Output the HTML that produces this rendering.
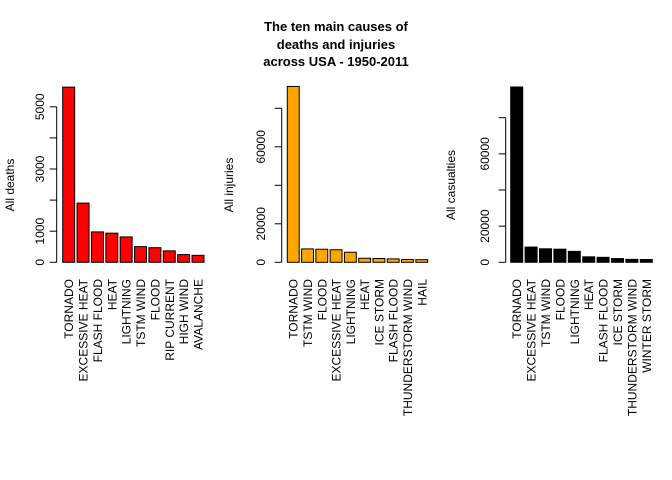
<!DOCTYPE html>
<html><head><meta charset="utf-8"><style>
body{margin:0;background:#fff}
svg{display:block;font-family:"Liberation Sans",sans-serif}
</style></head><body>
<svg id="c" width="672" height="480">
<text x="336" y="31" text-anchor="middle" font-size="13" font-weight="bold">The ten main causes of</text>
<text x="336" y="49" text-anchor="middle" font-size="13" font-weight="bold">deaths and injuries</text>
<text x="336" y="66" text-anchor="middle" font-size="13" font-weight="bold">across USA - 1950-2011</text>
</svg>
<script>
const deathCats=["TORNADO","EXCESSIVE HEAT","FLASH FLOOD","HEAT","LIGHTNING","TSTM WIND","FLOOD","RIP CURRENT","HIGH WIND","AVALANCHE"];
const deathVals=[5633,1903,978,937,816,504,470,368,248,224];
const deathTicks=[0,1000,2000,3000,4000,5000];
const deathTickLabels=["0","1000","","3000","","5000"];
const injCats=["TORNADO","TSTM WIND","FLOOD","EXCESSIVE HEAT","LIGHTNING","HEAT","ICE STORM","FLASH FLOOD","THUNDERSTORM WIND","HAIL"];
const injVals=[91346,6957,6789,6525,5230,2100,1975,1777,1488,1361];
const injTicks=[0,20000,40000,60000,80000];
const injTickLabels=["0","20000","","60000",""];
const casCats=["TORNADO","EXCESSIVE HEAT","TSTM WIND","FLOOD","LIGHTNING","HEAT","FLASH FLOOD","ICE STORM","THUNDERSTORM WIND","WINTER STORM"];
const casVals=[96979,8428,7461,7259,6046,3037,2755,2064,1621,1527];
const casTicks=[0,20000,40000,60000,80000];
const casTickLabels=["0","20000","","60000",""];

const svg=document.getElementById('c');
const NS="http://www.w3.org/2000/svg";
function mk(t,a,txt){const e=document.createElementNS(NS,t);for(const k in a)e.setAttribute(k,a[k]);if(txt!==undefined)e.textContent=txt;svg.appendChild(e);return e;}
function panel(id,cats,vals,ticks,tlabels,title,color,axisX,x0,x1,pxPerUnit,tickLabX,titleX){
  const y0=262.3;
  const ys=v=>y0-v*pxPerUnit;
  const unit=(x1-x0)/11.8;
  const tmax=ticks[ticks.length-1];
  const ax=mk('line',{x1:axisX,x2:axisX,y1:ys(0),y2:ys(tmax),stroke:'#000'});
  
  
  ticks.forEach((t,i)=>{
    const tk=mk('line',{x1:axisX-7,x2:axisX,y1:ys(t),y2:ys(t),stroke:'#000'});
    
    
    if(tlabels[i]){
      const tl=mk('text',{x:tickLabX,y:ys(t),'font-size':12,'text-anchor':'middle',transform:`rotate(-90 ${tickLabX} ${ys(t)})`},tlabels[i]);
      
      
    }
  });
  const tt=mk('text',{x:titleX,y:185,'font-size':12,'text-anchor':'middle',transform:`rotate(-90 ${titleX} 185)`},title);
  
  
  vals.forEach((v,i)=>{
    const bx=x0+unit*(0.2+i*1.2)-unit*0.2;
    const r=mk('rect',{x:bx,y:ys(v),width:unit,height:ys(0)-ys(v),fill:color,stroke:'#000','stroke-width':1});
    
    
    const cx=bx+unit/2+4.5;
    const lb=mk('text',{x:cx,y:279,'font-size':12,'text-anchor':'end',transform:`rotate(-90 ${cx} 279)`},cats[i]);
    
    
  });
}
panel('deaths',deathCats,deathVals,deathTicks,deathTickLabels,'All deaths','#ff0000',56.7,62.7,204,31.1/1000,44,14);
panel('injuries',injCats,injVals,injTicks,injTickLabels,'All injuries','#ffa500',281.7,287.3,427.7,38.5/20000,265,233);
panel('casualties',casCats,casVals,casTicks,casTickLabels,'All casualties','#000000',505.7,510.7,652.3,36.15/20000,489,455);
</script>
</body></html>
